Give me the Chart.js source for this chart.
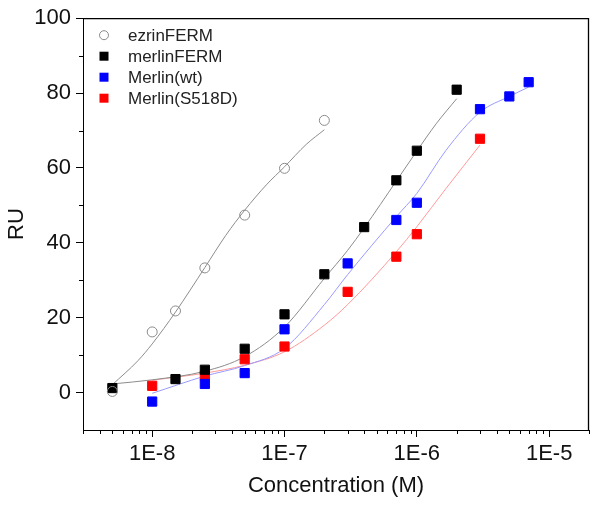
<!DOCTYPE html>
<html>
<head>
<meta charset="utf-8">
<script src="https://cdn.jsdelivr.net/npm/chart.js@4"></script>
<style>
  html, body { margin: 0; padding: 0; background: #fff; }
  #wrap { width: 600px; height: 508px; position: relative; }
</style>
</head>
<body>
<div id="wrap"><canvas id="c" width="600" height="508"></canvas></div>
<script>
// ---- Data ----
const seriesNames = ['ezrinFERM', 'merlinFERM', 'Merlin(wt)', 'Merlin(S518D)'];

const concEzrin = [5e-9, 1e-8, 1.5e-8, 2.5e-8, 5e-8, 1e-7, 2e-7];
const ruEzrin   = [0.3, 16.2, 21.8, 33.3, 47.4, 59.9, 72.7];

const concMerlinFERM = [5e-9, 1.5e-8, 2.5e-8, 5e-8, 1e-7, 2e-7, 4e-7, 7e-7, 1e-6, 2e-6];
const ruMerlinFERM   = [1.2, 3.6, 6.1, 11.7, 20.9, 31.6, 44.2, 56.7, 64.6, 80.9];

const concWt = [1e-8, 2.5e-8, 5e-8, 1e-7, 3e-7, 7e-7, 1e-6, 3e-6, 5e-6, 7e-6];
const ruWt   = [-2.4, 2.3, 5.2, 16.9, 34.5, 46.1, 50.7, 75.7, 79.1, 82.9];

const concS518D = [1e-8, 2.5e-8, 5e-8, 1e-7, 3e-7, 7e-7, 1e-6, 3e-6];
const ruS518D   = [1.8, 4.5, 8.9, 12.3, 26.9, 36.3, 42.3, 67.8];

// fitted curves, points
const fitEzrinX = [5e-9, 7.8e-9, 1e-8, 1.5e-8, 2.5e-8, 3.6e-8, 5e-8, 7.3e-8, 1e-7, 1.46e-7, 2e-7];
const fitEzrinY = [2.1, 8.5, 13, 21.5, 33.4, 42, 48.7, 55.5, 60.3, 66.3, 70.2];

const fitMerlinFERMX = [5e-9, 1e-8, 2.5e-8, 5e-8, 1e-7, 2e-7, 3e-7, 4e-7, 7e-7, 1e-6, 1.4e-6, 2e-6];
const fitMerlinFERMY = [2.3, 3.4, 5.7, 9.6, 17.5, 30.5, 38, 44, 56.5, 64.5, 71.8, 78.5];

const fitWtX = [1e-8, 2.5e-8, 5e-8, 1e-7, 2e-7, 3e-7, 7e-7, 1e-6, 1.66e-6, 3e-6, 5e-6, 7e-6];
const fitWtY = [-0.2, 4.4, 7.2, 11.8, 23.5, 31.5, 47, 53.2, 64.7, 74.9, 79.1, 81.6];

const fitS518DX = [1e-8, 2.5e-8, 5e-8, 1e-7, 2e-7, 3e-7, 7e-7, 1e-6, 1.66e-6, 3e-6];
const fitS518DY = [3.3, 5.2, 7.3, 10.9, 18, 23.5, 37.6, 44.3, 54.5, 66.1];

const xTickValues = [1e-8, 1e-7, 1e-6, 1e-5];
const xTickLabels = ['1E-8', '1E-7', '1E-6', '1E-5'];
const yTickValues = [0, 20, 40, 60, 80, 100];
const yTickLabels = ['0', '20', '40', '60', '80', '100'];
const yMinorValues = [10, 30, 50, 70, 90];
const xAxisTitle = 'Concentration (M)';
const yAxisTitle = 'RU';

// ---- helpers ----
const pts = (xs, ys) => xs.map((x, i) => ({ x: x, y: ys[i] }));
const FONT = '"Liberation Sans", Arial, Helvetica, sans-serif';

const pointSet = (label, xs, ys, style, color, fill, radius) => ({
  label: label,
  data: pts(xs, ys),
  showLine: false,
  pointStyle: style,
  pointRadius: radius,
  pointHoverRadius: radius,
  pointBorderWidth: 1,
  borderColor: color,
  backgroundColor: fill,
  pointBackgroundColor: fill,
  pointBorderColor: color,
  isMarker: true
});
const fitSet = (xs, ys, color) => ({
  label: '',
  data: pts(xs, ys),
  showLine: true,
  pointRadius: 0,
  borderColor: color,
  borderWidth: 1,
  backgroundColor: color,
  cubicInterpolationMode: 'monotone',
  fill: false,
  isMarker: false
});

const datasets = [
  pointSet(seriesNames[0], concEzrin, ruEzrin, 'circle', '#8a8a8a', 'rgba(255,255,255,0)', 5),
  pointSet(seriesNames[1], concMerlinFERM, ruMerlinFERM, 'rect', '#000000', '#000000', 6.5),
  pointSet(seriesNames[2], concWt, ruWt, 'rect', '#0000ff', '#0000ff', 6.5),
  pointSet(seriesNames[3], concS518D, ruS518D, 'rect', '#ff0000', '#ff0000', 6.5),
  fitSet(fitEzrinX, fitEzrinY, '#8c8c8c'),
  fitSet(fitMerlinFERMX, fitMerlinFERMY, '#8c8c8c'),
  fitSet(fitWtX, fitWtY, '#9a9aff'),
  fitSet(fitS518DX, fitS518DY, '#ff9a9a')
];

// inner legend, minor ticks and frame
const extrasPlugin = {
  id: 'extras',
  afterDraw(chart) {
    const ctx = chart.ctx;
    const a = chart.chartArea;
    const xs = chart.scales.x, ys = chart.scales.y;
    ctx.save();
    // frame top/right
    ctx.strokeStyle = '#000';
    ctx.lineWidth = 1.3;
    ctx.beginPath();
    ctx.moveTo(a.left, a.top + 0.5);
    ctx.lineTo(a.right - 0.5, a.top + 0.5);
    ctx.lineTo(a.right - 0.5, a.bottom);
    ctx.stroke();
    // minor ticks x
    ctx.lineWidth = 1;
    ctx.beginPath();
    for (let e = -10; e <= -4; e++) {
      for (let m = 2; m <= 9; m++) {
        const v = m * Math.pow(10, e);
        if (v < xs.min * 0.999 || v > xs.max * 1.001) continue;
        const px = Math.round(xs.getPixelForValue(v)) + 0.5;
        ctx.moveTo(px, a.bottom);
        ctx.lineTo(px, a.bottom + 4);
      }
    }
    // minor ticks y
    yMinorValues.forEach(v => {
      const py = Math.round(ys.getPixelForValue(v)) + 0.5;
      ctx.moveTo(a.left - 4, py);
      ctx.lineTo(a.left, py);
    });
    ctx.stroke();
    // legend
    const lx = a.left + 21, tx = a.left + 45;
    let ly = a.top + 17;
    ctx.font = '17px ' + FONT;
    ctx.textBaseline = 'middle';
    ctx.textAlign = 'left';
    chart.data.datasets.forEach(ds => {
      if (!ds.isMarker) return;
      if (ds.pointStyle === 'circle') {
        ctx.strokeStyle = ds.pointBorderColor;
        ctx.lineWidth = 1;
        ctx.beginPath();
        ctx.arc(lx, ly, 4.5, 0, Math.PI * 2);
        ctx.stroke();
      } else {
        ctx.fillStyle = ds.pointBackgroundColor;
        ctx.fillRect(lx - 4.5, ly - 4.5, 9, 9);
      }
      ctx.fillStyle = '#222';
      ctx.fillText(ds.label, tx, ly + 1);
      ly += 21;
    });
    ctx.restore();
  }
};

new Chart(document.getElementById('c'), {
  type: 'scatter',
  data: { datasets: datasets },
  options: {
    responsive: false,
    animation: false,
    devicePixelRatio: 1,
    layout: { padding: { left: 0, right: 11, top: 18, bottom: 0 } },
    plugins: { legend: { display: false }, tooltip: { enabled: false } },
    scales: {
      x: {
        type: 'logarithmic',
        position: 'bottom',
        min: 3e-9,
        max: 2e-5,
        afterBuildTicks: s => { s.ticks = xTickValues.map(v => ({ value: v })); },
        afterFit: s => { s.height = 78; },
        ticks: {
          autoSkip: false,
          maxRotation: 0,
          padding: 4,
          color: '#111',
          font: { family: FONT, size: 22 },
          callback: (v, i) => xTickLabels[i]
        },
        grid: { display: true, drawOnChartArea: false, drawTicks: true, tickLength: 7, color: '#000', tickColor: '#000' },
        border: { display: true, color: '#000', width: 1 },
        title: { display: true, text: xAxisTitle, color: '#111', font: { family: FONT, size: 22 }, padding: { top: 0, bottom: 9 } }
      },
      y: {
        type: 'linear',
        position: 'left',
        min: -10,
        max: 100,
        afterBuildTicks: s => { s.ticks = yTickValues.map(v => ({ value: v })); },
        afterFit: s => { s.width = 83; },
        ticks: {
          padding: 5,
          color: '#111',
          font: { family: FONT, size: 22 },
          callback: (v, i) => yTickLabels[i]
        },
        grid: { display: true, drawOnChartArea: false, drawTicks: true, tickLength: 7, color: '#000', tickColor: '#000' },
        border: { display: true, color: '#000', width: 1 },
        title: { display: true, text: yAxisTitle, color: '#111', font: { family: FONT, size: 22 }, padding: { top: 4, bottom: 0 } }
      }
    }
  },
  plugins: [extrasPlugin]
});
</script>
</body>
</html>
